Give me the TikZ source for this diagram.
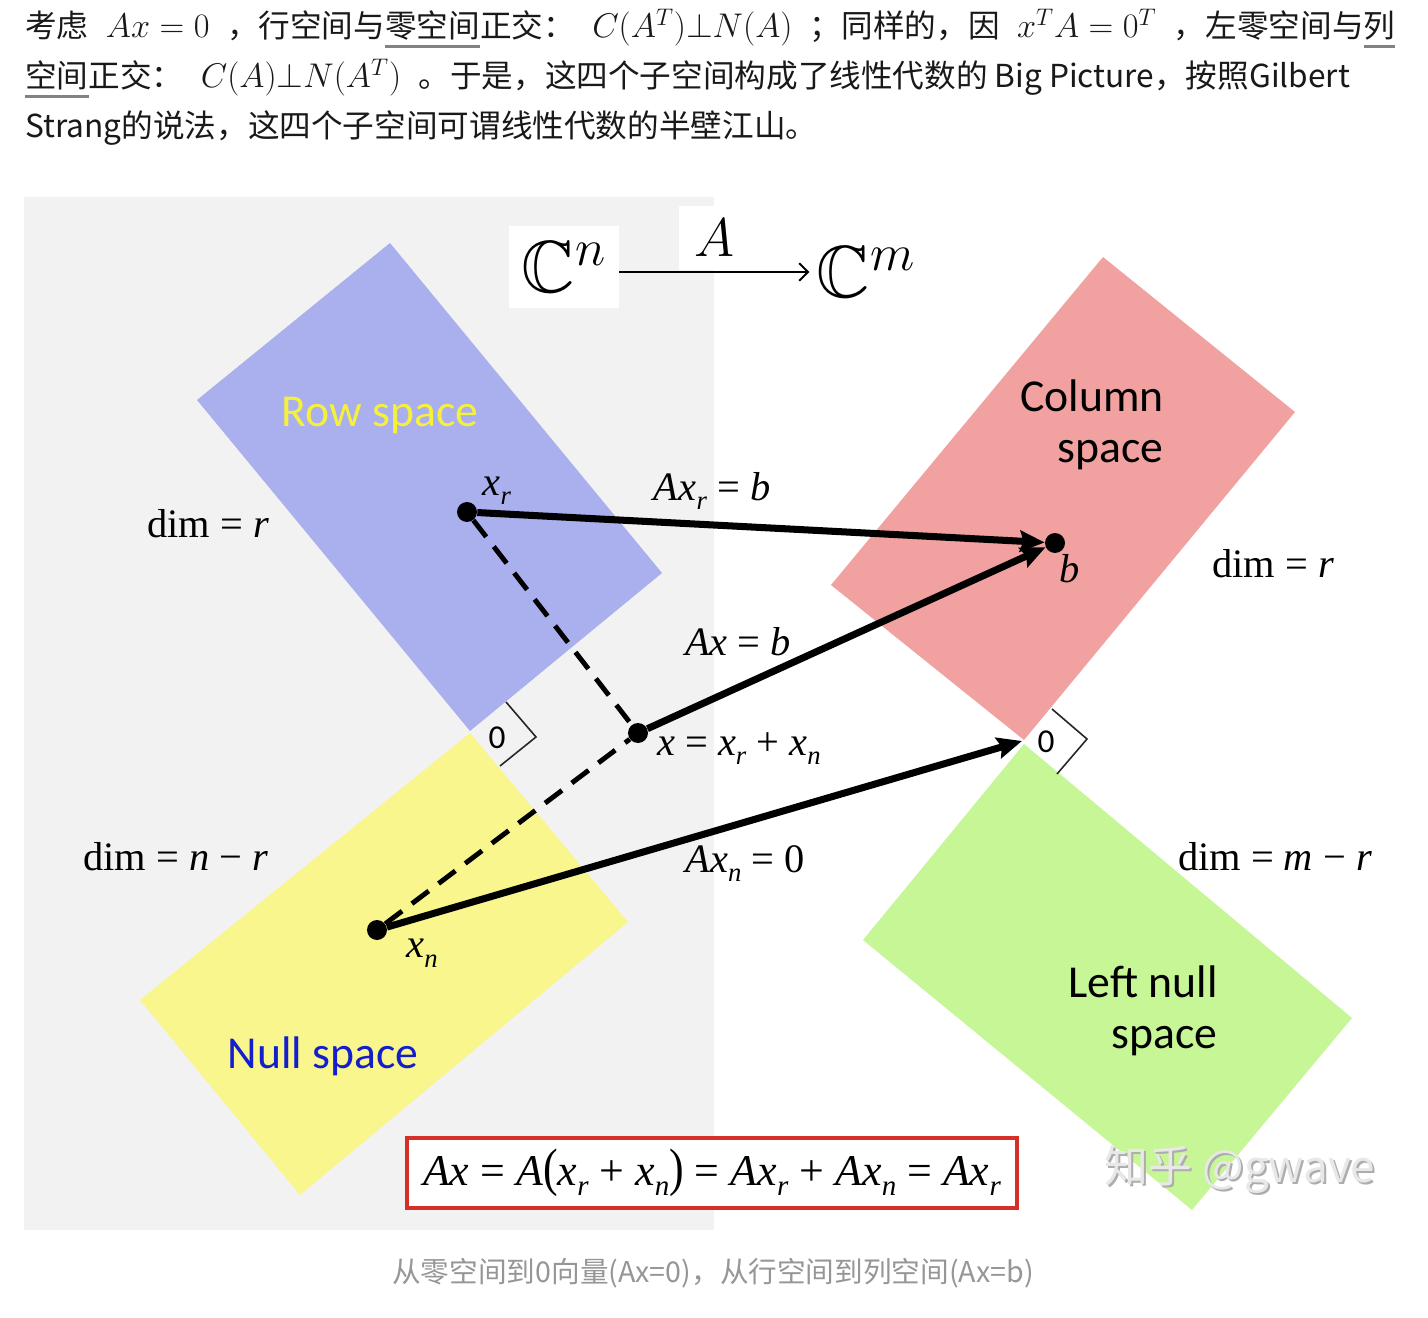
\RequirePackage{fix-cm}
\documentclass[tikz,border=0pt]{standalone}
\usepackage[no-math]{fontspec}
\usepackage{amssymb}
\usepackage{graphicx}
\setmainfont{Liberation Serif}
\newfontfamily\cjk{Noto Sans CJK SC}
\newfontfamily\lbl{Carlito}
\usetikzlibrary{arrows.meta,positioning}

\definecolor{bggray}{RGB}{242,242,242}
\definecolor{rowc}{RGB}{170,175,238}
\definecolor{nullc}{RGB}{248,246,140}
\definecolor{colc}{RGB}{240,161,160}
\definecolor{lnullc}{RGB}{199,246,150}
\definecolor{rowtxt}{RGB}{245,240,60}
\definecolor{nulltxt}{RGB}{20,30,205}
\definecolor{boxred}{RGB}{212,48,40}
\definecolor{capgray}{RGB}{150,150,150}
\definecolor{linkc}{RGB}{130,130,130}
\definecolor{bodytxt}{RGB}{25,25,25}

\newcommand\vsb[2]{\textit{#1}\raisebox{-0.5ex}{\scalebox{0.66}{\textit{#2}}}}
\newsavebox\lnkbox
\newcommand\lnk[1]{\sbox\lnkbox{#1}\rlap{\textcolor{linkc}{\rule[-0.32em]{\wd\lnkbox}{1.5pt}}}\usebox\lnkbox}
\newcommand\im[1]{\hspace{0.55em}{\fontsize{19.5}{20}\selectfont$#1$}\hspace{0.55em}}

\begin{document}
\begin{tikzpicture}[x=0.02cm, y=-0.02cm,
  body/.style={font=\cjk\fontsize{18}{20}\selectfont, text=bodytxt, inner sep=0pt, anchor=base west},
  tm/.style={font=\fontsize{23}{26}\selectfont, inner sep=1pt},
  spc/.style={font=\lbl\fontsize{26}{29}\selectfont, align=right, inner sep=0pt},
  zlbl/.style={font=\lbl\fontsize{19}{22}\selectfont, inner sep=0pt},
  vdot/.style={circle, fill=black, inner sep=0pt, minimum size=0.4cm},
  arr/.style={-{Stealth[length=14pt,width=12pt,inset=2pt]}, line width=4pt},
  dsh/.style={line width=2.8pt, dash pattern=on 12pt off 7pt},
  rmark/.style={line width=0.9pt, black!85},
  maparr/.style={-{Straight Barb[length=5pt,width=10pt]}, line width=1.1pt},
  cbox/.style={fill=white, inner sep=0pt, font=\fontsize{42}{42}\selectfont},
  wm/.style={font=\cjk\fontsize{25}{28}\selectfont, inner sep=0pt}
]
\useasboundingbox (0,0) rectangle (1428,1318);
\fill[white] (0,0) rectangle (1428,1318);

\node[body] (line1) at (25,38) {考虑\im{Ax=0}，行空间与\lnk{零空间}正交：\im{C(A^T){\perp}N(A)}；同样的，因\im{x^TA=0^T}，左零空间与\lnk{列}};
\node[body] (line2) at (25,88) {\lnk{空间}正交：\im{C(A){\perp}N(A^T)}。于是，这四个子空间构成了线性代数的 Big Picture，按照Gilbert};
\node[body] (line3) at (25,138) {Strang的说法，这四个子空间可谓线性代数的半壁江山。};

\fill[bggray] (24,197) rectangle (714,1230);

\fill[rowc] (390,243) -- (662,573) -- (470,731) -- (197,400) -- cycle;
\fill[nullc] (470,733) -- (628,922) -- (300,1195) -- (140,1000) -- cycle;
\fill[colc] (1103,257) -- (1295,412) -- (1024,740) -- (831,585) -- cycle;
\fill[lnullc] (1024,744) -- (1352,1018) -- (1192,1210) -- (863,940) -- cycle;

\draw[rmark] (506,702) -- (536,737) -- (500,766);
\draw[rmark] (1052,709) -- (1087,739) -- (1057,774);
\node[zlbl] (z1) at (497,738) {0};
\node[zlbl] (z2) at (1046,742) {0};

\node[cbox, minimum width=2.2cm, minimum height=1.64cm] (cn) at (564,267) {$\mathbb{C}^n$};
\node[cbox, minimum width=1.4cm, minimum height=1.3cm, font=\fontsize{31}{31}\selectfont] (amap) at (714,238) {$A$};
\node[cbox, fill=none, anchor=base, inner sep=1pt] (cm) at (866,297) {$\mathbb{C}^m$};
\draw[maparr] (cn.east |- 0,272) -- ([xshift=-3pt]cm.west |- 0,272);

\node[spc, text=rowtxt, anchor=base] (rowlbl) at (380,426) {Row space};
\node[spc, text=nulltxt, anchor=base] (nulllbl) at (323,1068) {Null space};
\node[spc, anchor=base east] (collbl) at (1164,462) {Column\\space};
\node[spc, anchor=base east] (lnlbl) at (1218,1048) {Left null\\space};

\node[tm, anchor=base] (dimrow) at (208,537) {dim = \textit{r}};
\node[tm, anchor=base] (dimcol) at (1273,577) {dim = \textit{r}};
\node[tm, anchor=base] (dimnull) at (176,870) {dim = \textit{n} − \textit{r}};
\node[tm, anchor=base] (dimlnull) at (1275,870) {dim = \textit{m} − \textit{r}};

\node[vdot] (xr) at (467,512) {};
\node[vdot] (b) at (1055,543) {};
\node[vdot] (x) at (638,733) {};
\node[vdot] (xn) at (377,930) {};
\coordinate (origin) at (1022,741);

\draw[dsh] (xr) -- (x);
\draw[dsh] (xn) -- (x);
\draw[arr] (xr) -- (b);
\draw[arr] (x) -- (b);
\draw[arr] (xn) -- (origin);

\node[tm, anchor=base] (xrlbl) at (497,495) {\vsb{x}{r}};
\node[tm, below right=0.5mm and -1mm of b] (blbl) {\textit{b}};
\node[tm, below right=0mm and 4mm of xn] (xnlbl) {\vsb{x}{n}};
\node[tm, anchor=base] (eqr) at (712,500) {\textit{A}\vsb{x}{r} = \textit{b}};
\node[tm, anchor=base] (eqx) at (738,655) {\textit{Ax} = \textit{b}};
\node[tm, anchor=base west] (sum) at (655,755) {\textit{x} = \vsb{x}{r} + \vsb{x}{n}};
\node[tm, anchor=base] (eqn) at (745,872) {\textit{A}\vsb{x}{n} = 0};

\node[draw=boxred, line width=2.2pt, fill=white, minimum width=12.2cm, minimum height=1.4cm,
  font=\fontsize{25}{28}\selectfont] (eqbox) at (712,1173)
  {\textit{Ax} = \textit{A}\scalebox{1}[1.2]{(}\vsb{x}{r} + \vsb{x}{n}\scalebox{1}[1.2]{)} = \textit{A}\vsb{x}{r} + \textit{A}\vsb{x}{n} = \textit{A}\vsb{x}{r}};

\node[wm, text=black!32] (wmshadow) at (1242,1172) {知乎 @gwave};
\node[wm, text=black!9] (wmark) at (1240,1170) {知乎 @gwave};

\node[font=\cjk\fontsize{16.3}{19}\selectfont, text=capgray] (cap) at (713,1273) {从零空间到0向量(Ax=0)，从行空间到列空间(Ax=b)};
\end{tikzpicture}
\end{document}
